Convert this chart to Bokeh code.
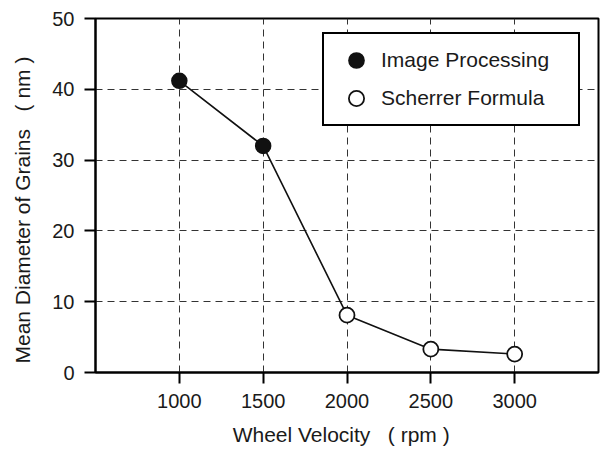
from bokeh.plotting import figure
from bokeh.models import ColumnDataSource, Legend, LegendItem, FixedTicker, Range1d
from bokeh.embed import file_html
from bokeh.resources import INLINE

# Grain size vs. wheel velocity
velocity = [1000, 1500, 2000, 2500, 3000]
diameter = [41.2, 32.0, 8.1, 3.3, 2.6]
method = ["Image Processing", "Image Processing",
          "Scherrer Formula", "Scherrer Formula", "Scherrer Formula"]

x_ticks = [1000, 1500, 2000, 2500, 3000]
y_ticks = [0, 10, 20, 30, 40, 50]

FONT = "Liberation Sans"
NB = "\u00a0"  # non-breaking space keeps the wide gaps in the axis titles

p = figure(width=602, height=452, output_backend="svg", toolbar_location=None,
           x_range=Range1d(500, 3500), y_range=Range1d(0, 50),
           min_border_left=95, min_border_right=4, min_border_top=18,
           min_border_bottom=80)
p.background_fill_color = "white"
p.border_fill_color = "white"
p.outline_line_color = "black"
p.outline_line_width = 2

# axes
for ax in (p.xaxis[0], p.yaxis[0]):
    ax.axis_line_width = 2
    ax.axis_line_color = "black"
    ax.major_tick_line_width = 2
    ax.major_tick_line_color = "black"
    ax.major_tick_out = 11
    ax.major_tick_in = 0
    ax.minor_tick_line_color = None
    ax.major_label_text_font = FONT
    ax.major_label_text_font_size = "20px"
    ax.major_label_text_color = "#1a1a1a"
    ax.axis_label_text_font = FONT
    ax.axis_label_text_font_size = "21px"
    ax.axis_label_text_font_style = "normal"
    ax.axis_label_text_color = "#1a1a1a"

p.xaxis.ticker = FixedTicker(ticks=x_ticks)
p.yaxis.ticker = FixedTicker(ticks=y_ticks)
p.xaxis.major_label_standoff = 10
p.yaxis.major_label_standoff = 10
p.xaxis.axis_label = f"Wheel Velocity{NB*3}({NB}rpm{NB}){NB*2}"
p.yaxis.axis_label = f"Mean Diameter of Grains{NB*3}({NB}nm{NB}){NB*5}"
p.xaxis.axis_label_standoff = 12
p.yaxis.axis_label_standoff = 15

# dashed grid
for g in (p.xgrid[0], p.ygrid[0]):
    g.grid_line_color = "#333333"
    g.grid_line_width = 1
    g.grid_line_dash = "7 5"
p.xgrid.ticker = FixedTicker(ticks=x_ticks)
p.ygrid.ticker = FixedTicker(ticks=y_ticks)

# connecting line through all measurements
p.line(velocity, diameter, line_color="#111111", line_width=1.6)

ip = ColumnDataSource(dict(
    x=[v for v, m in zip(velocity, method) if m == "Image Processing"],
    y=[d for d, m in zip(diameter, method) if m == "Image Processing"]))
sf = ColumnDataSource(dict(
    x=[v for v, m in zip(velocity, method) if m == "Scherrer Formula"],
    y=[d for d, m in zip(diameter, method) if m == "Scherrer Formula"]))

r_ip = p.scatter("x", "y", source=ip, size=15, marker="circle",
                 fill_color="#111111", line_color="#111111", line_width=1.5)
r_sf = p.scatter("x", "y", source=sf, size=15, marker="circle",
                 fill_color="white", line_color="#111111", line_width=1.8)

legend = Legend(items=[LegendItem(label="Image Processing", renderers=[r_ip]),
                       LegendItem(label="Scherrer Formula", renderers=[r_sf])],
                location=(227, 246))
legend.border_line_color = "black"
legend.border_line_width = 2
legend.border_line_alpha = 1
legend.background_fill_color = "white"
legend.background_fill_alpha = 1
legend.padding = 7
legend.margin = 0
legend.spacing = 0
legend.glyph_width = 50
legend.glyph_height = 38
legend.label_height = 38
legend.label_standoff = 0
legend.label_width = 190
legend.label_text_font = FONT
legend.label_text_font_size = "21px"
legend.label_text_color = "#1a1a1a"
p.add_layout(legend, "center")

open("out.html", "w").write(file_html(p, INLINE))
